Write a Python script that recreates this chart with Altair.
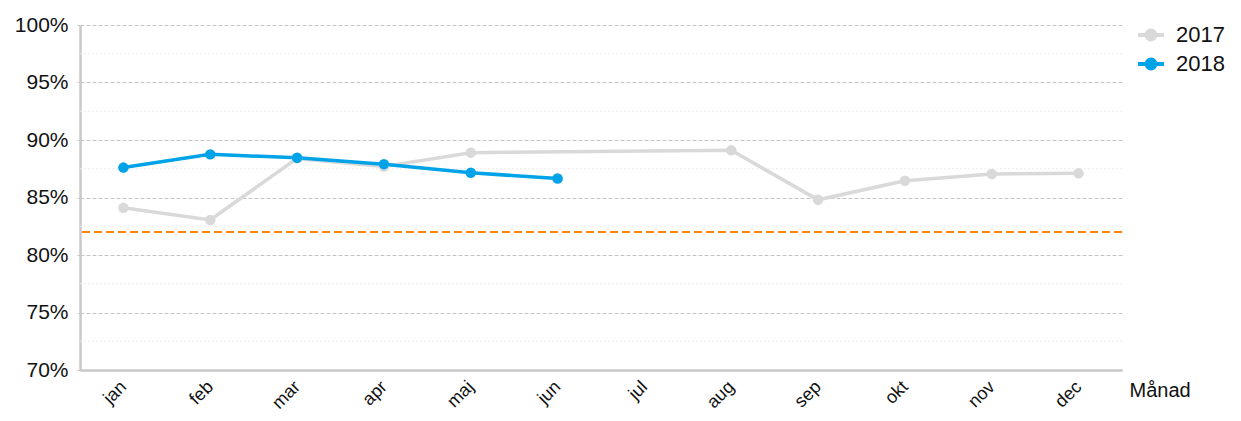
import altair as alt
import pandas as pd

months = ["jan", "feb", "mar", "apr", "maj", "jun", "jul", "aug", "sep", "okt", "nov", "dec"]
v2017 = [84.1, 83.05, 88.4, 87.7, 88.9, None, None, 89.1, 84.8, 86.45, 87.05, 87.1]
v2018 = [87.6, 88.75, 88.45, 87.9, 87.15, 86.65, None, None, None, None, None, None]
years = ["2017", "2018"]
colors = ["#d9d9d9", "#00a3e8"]
target = [82.0]
major_ticks = [70, 75, 80, 85, 90, 95, 100]
minor_ticks = [72.5, 77.5, 82.5, 87.5, 92.5, 97.5]

rows = []
for m, a, b in zip(months, v2017, v2018):
    if a is not None:
        rows.append({"Månad": m, "År": "2017", "v": a})
    if b is not None:
        rows.append({"Månad": m, "År": "2018", "v": b})
df = pd.DataFrame(rows)

FONT = "Liberation Sans"
W, H = 1042, 345

x = alt.X("Månad:N", sort=months,
          scale=alt.Scale(type="point", domain=months, padding=0.5),
          axis=alt.Axis(title="Månad", labelAngle=-45, labelFontSize=18, labelColor="#111",
                        labelFont=FONT, labelPadding=14, labelAlign="right",
                        labelBaseline="middle", ticks=False, grid=False,
                        domainColor="#c8c8c8", domainWidth=2.5,
                        titleFont=FONT, titleFontSize=20, titleFontWeight="normal",
                        titleColor="#111", titleAngle=0, titleAlign="left",
                        titleBaseline="middle", titleX=W + 7, titleY=20))

y_scale = alt.Scale(domain=[70, 100], nice=False, zero=False)
y = alt.Y("v:Q", scale=y_scale,
          axis=alt.Axis(title=None, values=major_ticks, labelExpr="datum.value + '%'",
                        labelFontSize=21, labelFont=FONT, labelColor="#111", labelPadding=9,
                        tickSize=3, tickColor="#c8c8c8", gridColor="#c4c4c4", gridDash=[4, 2],
                        gridWidth=1, domainColor="#c8c8c8", domainWidth=2.5))

color = alt.Color("År:N", scale=alt.Scale(domain=years, range=colors),
                  legend=alt.Legend(title=None, orient="none", legendX=W + 14, legendY=-5,
                                    labelFontSize=22, labelFont=FONT, labelColor="#111",
                                    symbolType="M-1,0 L1,0 M-0.154,0 A0.154,0.154 0 1,1 0.154,0 A0.154,0.154 0 1,1 -0.154,0 M-0.346,0 A0.346,0.346 0 1,1 0.346,0 A0.346,0.346 0 1,1 -0.346,0",
                                    symbolSize=676, symbolStrokeWidth=4, labelOffset=10,
                                    rowPadding=1))

minor = alt.Chart(pd.DataFrame({"m": minor_ticks})).mark_rule(
    color="#ebebeb", strokeDash=[2, 2], strokeWidth=1).encode(
    y=alt.Y("m:Q", scale=y_scale))

ref = alt.Chart(pd.DataFrame({"t": target})).mark_rule(
    color="#ff8500", strokeDash=[8, 4], strokeWidth=2.2).encode(
    y=alt.Y("t:Q", scale=y_scale))

lines = alt.Chart(df).mark_line(strokeWidth=3.5).encode(x=x, y=y, color=color)
points = alt.Chart(df).mark_circle(size=110, opacity=1).encode(
    x=x, y=y, color=alt.Color("År:N", scale=alt.Scale(domain=years, range=colors), legend=None))

chart = alt.layer(minor, ref, lines, points).properties(
    width=W, height=H,
    autosize=alt.AutoSizeParams(type="none"),
    padding={"left": 72, "top": 17, "right": 111, "bottom": 43},
    view=alt.ViewBackground(stroke=None, strokeWidth=0),
).configure_view(strokeOpacity=0).configure(font=FONT)

chart.save("out.html", embed_options={"renderer": "svg", "actions": False})
